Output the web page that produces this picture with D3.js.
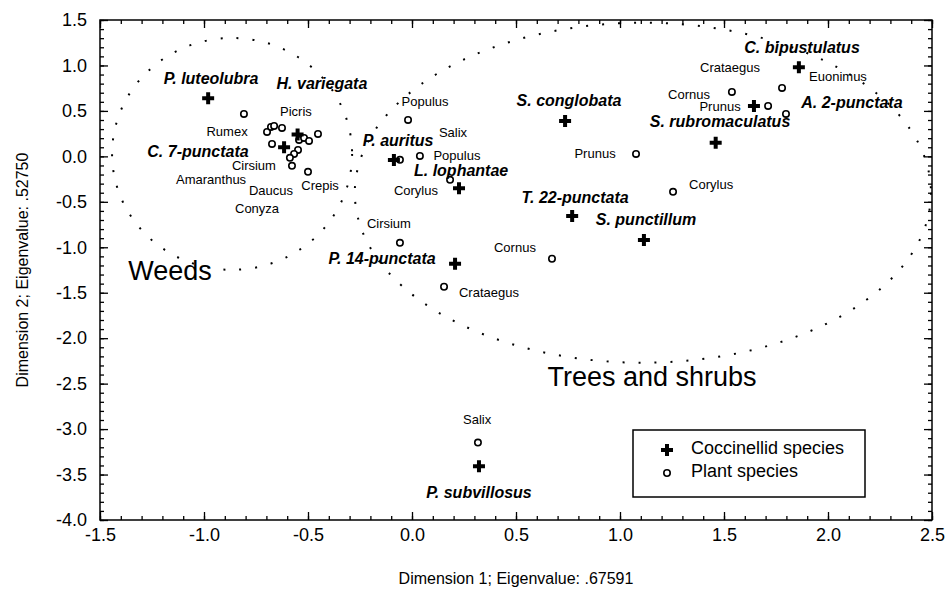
<!DOCTYPE html>
<html>
<head>
<meta charset="utf-8">
<script src="https://cdn.jsdelivr.net/npm/d3@7"></script>
<style>
  body { margin: 0; background: #fff; }
  svg { font-family: Arial, "Liberation Sans", sans-serif; }
</style>
</head>
<body>
<div id="chart"></div>
<script>
// Coccinellid species scores (dimension 1, dimension 2)
const coccinellids = [
    { name: "P. luteolubra", x: -0.98, y: 0.64 },
    { name: "H. variegata", x: -0.55, y: 0.24 },
    { name: "C. 7-punctata", x: -0.615, y: 0.10 },
    { name: "P. auritus", x: -0.087, y: -0.04 },
    { name: "L. lophantae", x: 0.226, y: -0.35 },
    { name: "S. conglobata", x: 0.736, y: 0.39 },
    { name: "S. rubromaculatus", x: 1.46, y: 0.15 },
    { name: "C. bipustulatus", x: 1.86, y: 0.98 },
    { name: "A. 2-punctata", x: 1.644, y: 0.555 },
    { name: "T. 22-punctata", x: 0.77, y: -0.655 },
    { name: "S. punctillum", x: 1.115, y: -0.92 },
    { name: "P. 14-punctata", x: 0.207, y: -1.18 },
    { name: "P. subvillosus", x: 0.322, y: -3.41 }
];

// Plant species scores
const plants = [
    { name: "Rumex", x: -0.808, y: 0.467 },
    { name: "Picris", x: -0.697, y: 0.269 },
    { name: "", x: -0.678, y: 0.324 },
    { name: "", x: -0.663, y: 0.335 },
    { name: "", x: -0.625, y: 0.313 },
    { name: "Amaranthus", x: -0.673, y: 0.137 },
    { name: "", x: -0.543, y: 0.181 },
    { name: "", x: -0.519, y: 0.203 },
    { name: "", x: -0.495, y: 0.170 },
    { name: "", x: -0.452, y: 0.247 },
    { name: "Daucus", x: -0.548, y: 0.071 },
    { name: "Conyza", x: -0.567, y: 0.027 },
    { name: "Cirsium", x: -0.587, y: -0.016 },
    { name: "", x: -0.577, y: -0.104 },
    { name: "Crepis", x: -0.500, y: -0.170 },
    { name: "Populus", x: -0.019, y: 0.401 },
    { name: "Salix", x: -0.058, y: -0.038 },
    { name: "Populus", x: 0.038, y: 0.005 },
    { name: "Corylus", x: 0.183, y: -0.258 },
    { name: "Cirsium", x: -0.058, y: -0.951 },
    { name: "Crataegus", x: 0.154, y: -1.434 },
    { name: "Cornus", x: 0.673, y: -1.126 },
    { name: "Prunus", x: 1.077, y: 0.027 },
    { name: "Corylus", x: 1.255, y: -0.390 },
    { name: "Cornus", x: 1.538, y: 0.709 },
    { name: "Crataegus", x: 1.779, y: 0.753 },
    { name: "Prunus", x: 1.712, y: 0.555 },
    { name: "Euonimus", x: 1.798, y: 0.467 },
    { name: "Salix", x: 0.317, y: -3.148 }
];

// Label anchors in data units
const coccinellidLabels = [
    { text: "P. luteolubra", x: -0.966, y: 0.852 },
    { text: "H. variegata", x: -0.433, y: 0.797 },
    { text: "C. 7-punctata", x: -1.029, y: 0.049 },
    { text: "P. auritus", x: -0.067, y: 0.170 },
    { text: "L. lophantae", x: 0.236, y: -0.159 },
    { text: "S. conglobata", x: 0.755, y: 0.610 },
    { text: "S. rubromaculatus", x: 1.481, y: 0.379 },
    { text: "C. bipustulatus", x: 1.875, y: 1.203 },
    { text: "A. 2-punctata", x: 2.115, y: 0.588 },
    { text: "T. 22-punctata", x: 0.784, y: -0.456 },
    { text: "S. punctillum", x: 1.125, y: -0.698 },
    { text: "P. 14-punctata", x: -0.144, y: -1.126 },
    { text: "P. subvillosus", x: 0.322, y: -3.698 }
];

const plantLabels = [
    { text: "Picris", x: -0.558, y: 0.489 },
    { text: "Rumex", x: -0.889, y: 0.269 },
    { text: "Cirsium", x: -0.760, y: -0.104 },
    { text: "Amaranthus", x: -0.966, y: -0.258 },
    { text: "Daucus", x: -0.678, y: -0.379 },
    { text: "Crepis", x: -0.442, y: -0.324 },
    { text: "Conyza", x: -0.745, y: -0.577 },
    { text: "Populus", x: 0.063, y: 0.599 },
    { text: "Salix", x: 0.197, y: 0.258 },
    { text: "Populus", x: 0.216, y: 0.005 },
    { text: "Corylus", x: 0.019, y: -0.379 },
    { text: "Cirsium", x: -0.111, y: -0.742 },
    { text: "Cornus", x: 0.495, y: -1.005 },
    { text: "Crataegus", x: 0.370, y: -1.500 },
    { text: "Prunus", x: 0.880, y: 0.027 },
    { text: "Corylus", x: 1.438, y: -0.313 },
    { text: "Cornus", x: 1.332, y: 0.676 },
    { text: "Crataegus", x: 1.529, y: 0.973 },
    { text: "Prunus", x: 1.481, y: 0.545 },
    { text: "Euonimus", x: 2.048, y: 0.874 },
    { text: "Salix", x: 0.313, y: -2.896 }
];

// Groupings drawn as dotted ellipses (centre and radii in data units)
const groups = [
    { name: "Weeds", cx: -0.865, cy: 0.027, rx: 0.577, ry: 1.275, lx: -1.163, ly: -1.258 },
    { name: "Trees and shrubs", cx: 1.11, cy: -0.40, rx: 1.385, ry: 1.87, lx: 1.154, ly: -2.423 }
];

const xTicks = [-1.5, -1.0, -0.5, 0.0, 0.5, 1.0, 1.5, 2.0, 2.5];
const yTicks = [1.5, 1.0, 0.5, 0.0, -0.5, -1.0, -1.5, -2.0, -2.5, -3.0, -3.5, -4.0];

const width = 948, height = 594;
const margin = { top: 20, right: 16, bottom: 74, left: 100 };

const svg = d3.select("#chart")
    .append("svg")
    .attr("width", width)
    .attr("height", height);

const x = d3.scaleLinear().domain([-1.5, 2.5]).range([margin.left, width - margin.right]);
const y = d3.scaleLinear().domain([-4, 1.5]).range([height - margin.bottom, margin.top]);

const x0 = x.range()[0], x1 = x.range()[1];
const y0 = y.range()[1], y1 = y.range()[0];

// minor tick positions every 0.1
const xMinor = d3.range(-15, 26).map(i => i / 10);
const yMinor = d3.range(-40, 16).map(i => i / 10);

// plain hyphen minus like the original
const fmt = d => d.toFixed(1);

function styleAxis(g) {
    g.select(".domain").remove();
    g.selectAll(".tick line").attr("stroke", "#000").attr("stroke-width", 1.3);
    g.selectAll(".tick text").attr("fill", "#000").style("font-size", "18px");
}

// Bottom axis (inward ticks)
svg.append("g")
    .attr("transform", `translate(0,${y1})`)
    .call(d3.axisBottom(x).tickValues(xMinor).tickSize(-4).tickFormat(""))
    .call(styleAxis);
svg.append("g")
    .attr("transform", `translate(0,${y1})`)
    .call(d3.axisBottom(x).tickValues(xTicks).tickSize(-8).tickPadding(8).tickFormat(fmt))
    .call(styleAxis);

// Top mirror
svg.append("g")
    .attr("transform", `translate(0,${y0})`)
    .call(d3.axisTop(x).tickValues(xMinor).tickSize(-4).tickFormat(""))
    .call(styleAxis);
svg.append("g")
    .attr("transform", `translate(0,${y0})`)
    .call(d3.axisTop(x).tickValues(xTicks).tickSize(-8).tickFormat(""))
    .call(styleAxis);

// Left axis
svg.append("g")
    .attr("transform", `translate(${x0},0)`)
    .call(d3.axisLeft(y).tickValues(yMinor).tickSize(-4).tickFormat(""))
    .call(styleAxis);
svg.append("g")
    .attr("transform", `translate(${x0},0)`)
    .call(d3.axisLeft(y).tickValues(yTicks).tickSize(-8).tickPadding(13).tickFormat(fmt))
    .call(styleAxis);

// Right mirror
svg.append("g")
    .attr("transform", `translate(${x1},0)`)
    .call(d3.axisRight(y).tickValues(yMinor).tickSize(-4).tickFormat(""))
    .call(styleAxis);
svg.append("g")
    .attr("transform", `translate(${x1},0)`)
    .call(d3.axisRight(y).tickValues(yTicks).tickSize(-8).tickFormat(""))
    .call(styleAxis);

// Frame
svg.append("rect")
    .attr("x", x0).attr("y", y0)
    .attr("width", x1 - x0).attr("height", y1 - y0)
    .attr("fill", "none").attr("stroke", "#000").attr("stroke-width", 1.5);

// Axis titles
svg.append("text")
    .attr("x", (x0 + x1) / 2)
    .attr("y", 578)
    .attr("text-anchor", "middle")
    .attr("dominant-baseline", "central")
    .style("font-size", "16px")
    .text("Dimension 1; Eigenvalue: .67591");

svg.append("text")
    .attr("transform", `translate(22,${(y0 + y1) / 2}) rotate(-90)`)
    .attr("text-anchor", "middle")
    .attr("dominant-baseline", "central")
    .style("font-size", "16px")
    .text("Dimension 2; Eigenvalue: .52750");

// Dotted group ellipses
svg.append("g")
    .selectAll("ellipse")
    .data(groups)
    .enter()
    .append("ellipse")
    .attr("cx", d => x(d.cx))
    .attr("cy", d => y(d.cy))
    .attr("rx", d => x(d.cx + d.rx) - x(d.cx))
    .attr("ry", d => y(d.cy - d.ry) - y(d.cy))
    .attr("fill", "none")
    .attr("stroke", "#000")
    .attr("stroke-width", 2)
    .attr("stroke-dasharray", "2,14");

svg.append("g")
    .selectAll("text")
    .data(groups)
    .enter()
    .append("text")
    .attr("x", d => x(d.lx))
    .attr("y", d => y(d.ly))
    .attr("text-anchor", "middle")
    .attr("dominant-baseline", "central")
    .style("font-size", "27px")
    .text(d => d.name);

// Plant points
const cross = d3.symbol(d3.symbolCross).size(80);

svg.append("g")
    .selectAll("circle")
    .data(plants)
    .enter()
    .append("circle")
    .attr("cx", d => x(d.x))
    .attr("cy", d => y(d.y))
    .attr("r", 3.2)
    .attr("fill", "#fff")
    .attr("stroke", "#000")
    .attr("stroke-width", 1.6);

// Coccinellid points
svg.append("g")
    .selectAll("path")
    .data(coccinellids)
    .enter()
    .append("path")
    .attr("d", cross)
    .attr("transform", d => `translate(${x(d.x)},${y(d.y)})`)
    .attr("fill", "#000");

// Labels
svg.append("g")
    .selectAll("text")
    .data(plantLabels)
    .enter()
    .append("text")
    .attr("x", d => x(d.x))
    .attr("y", d => y(d.y))
    .attr("text-anchor", "middle")
    .attr("dominant-baseline", "central")
    .style("font-size", "13px")
    .text(d => d.text);

svg.append("g")
    .selectAll("text")
    .data(coccinellidLabels)
    .enter()
    .append("text")
    .attr("x", d => x(d.x))
    .attr("y", d => y(d.y))
    .attr("text-anchor", "middle")
    .attr("dominant-baseline", "central")
    .style("font-size", "16px")
    .style("font-weight", "bold")
    .style("font-style", "italic")
    .text(d => d.text);

// Legend
const legend = svg.append("g").attr("transform", "translate(633,430)");
legend.append("rect")
    .attr("width", 232).attr("height", 67)
    .attr("fill", "#fff").attr("stroke", "#000").attr("stroke-width", 1.5);
legend.append("path")
    .attr("d", cross)
    .attr("transform", "translate(34,20)")
    .attr("fill", "#000");
legend.append("circle")
    .attr("cx", 34).attr("cy", 43).attr("r", 3.2)
    .attr("fill", "#fff").attr("stroke", "#000").attr("stroke-width", 1.6);
legend.append("text")
    .attr("x", 58).attr("y", 18)
    .attr("dominant-baseline", "central")
    .style("font-size", "18px")
    .text("Coccinellid species");
legend.append("text")
    .attr("x", 58).attr("y", 41)
    .attr("dominant-baseline", "central")
    .style("font-size", "18px")
    .text("Plant species");
</script>
</body>
</html>
